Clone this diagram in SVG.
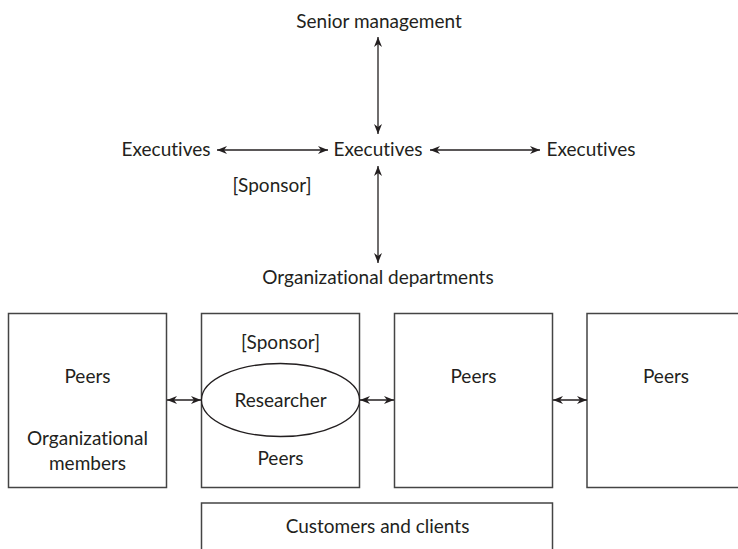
<svg xmlns="http://www.w3.org/2000/svg" width="738" height="549" viewBox="0 0 738 549">
  <style>
    text { font-family: "Lato", "Open Sans", "Liberation Sans", sans-serif; font-size: 19px; fill: #231f20; text-anchor: middle; font-variant-ligatures: none; }
    .box { fill: #ffffff; stroke: #444444; stroke-width: 1.5; }
    .link { fill: none; stroke: #231f20; stroke-width: 1.3; marker-start: url(#head); marker-end: url(#head); }
  </style>
  <defs>
    <marker id="head" viewBox="0 0 10 8" refX="10" refY="4" markerWidth="10" markerHeight="8" markerUnits="userSpaceOnUse" orient="auto-start-reverse">
      <path d="M0,0 L10,4 L0,8 L3,4 Z" fill="#231f20"/>
    </marker>
  </defs>

  <!-- upper hierarchy labels -->
  <g id="senior-management"><text x="379" y="28">Senior management</text></g>
  <g id="executives-left"><text x="166" y="156">Executives</text></g>
  <g id="executives-center"><text x="378" y="156">Executives</text></g>
  <g id="executives-right"><text x="591" y="156">Executives</text></g>
  <g id="sponsor-label"><text x="272" y="192">[Sponsor]</text></g>
  <g id="org-departments"><text x="378" y="284">Organizational departments</text></g>

  <!-- lower row of boxes -->
  <g id="box-members">
    <rect class="box" x="8.5" y="313.5" width="158" height="174"/>
    <text x="87.5" y="383">Peers</text>
    <text x="87.5" y="445">Organizational</text>
    <text x="87.5" y="470">members</text>
  </g>
  <g id="box-researcher">
    <rect class="box" x="201.5" y="313.5" width="158" height="174"/>
    <text x="280.5" y="349">[Sponsor]</text>
    <ellipse cx="280.5" cy="400" rx="79" ry="36.5" fill="#ffffff" stroke="#231f20" stroke-width="1.3"/>
    <text x="280.5" y="407">Researcher</text>
    <text x="280.5" y="465">Peers</text>
  </g>
  <g id="box-peers-3">
    <rect class="box" x="394.5" y="313.5" width="158" height="174"/>
    <text x="473.5" y="383">Peers</text>
  </g>
  <g id="box-peers-4">
    <rect class="box" x="587" y="313.5" width="158" height="174"/>
    <text x="666" y="383">Peers</text>
  </g>
  <g id="box-customers">
    <rect class="box" x="201.5" y="503" width="351" height="60"/>
    <text x="377.5" y="533">Customers and clients</text>
  </g>

  <!-- connectors -->
  <g id="connectors">
    <line class="link" x1="378" y1="37" x2="378" y2="134"/>
    <line class="link" x1="217" y1="150" x2="328" y2="150"/>
    <line class="link" x1="430" y1="150" x2="540" y2="150"/>
    <line class="link" x1="378" y1="166" x2="378" y2="263"/>
    <line class="link" x1="167" y1="400" x2="201" y2="400"/>
    <line class="link" x1="360" y1="400" x2="394" y2="400"/>
    <line class="link" x1="553" y1="400" x2="587" y2="400"/>
  </g>
</svg>
